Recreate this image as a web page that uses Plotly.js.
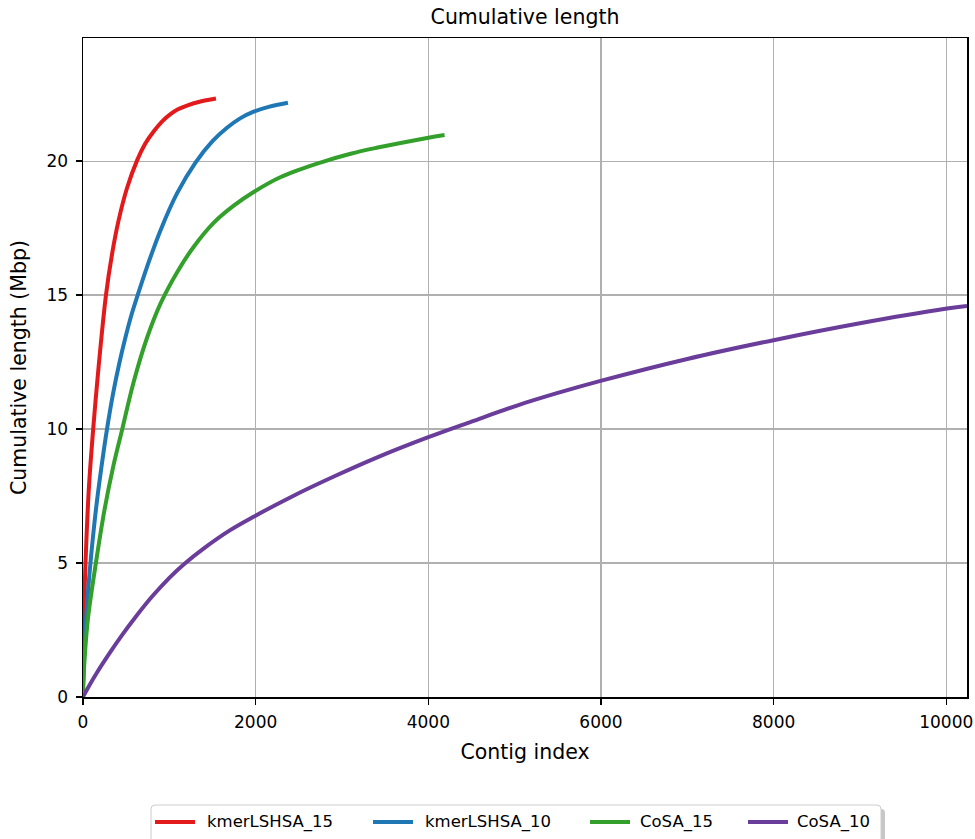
<!DOCTYPE html>
<html>
<head>
<meta charset="utf-8">
<script src="https://cdn.plot.ly/plotly-3.0.1.min.js"></script>
<style>html,body{margin:0;padding:0;background:#fff;}#chart{width:975px;height:839px;}</style>
</head>
<body>
<div id="chart"></div>
<script>
// Series names and colours
const seriesNames = ["kmerLSHSA_15", "kmerLSHSA_10", "CoSA_15", "CoSA_10"];
const seriesColors = ["#e31a1c", "#1f78b4", "#33a02c", "#6a3d9a"];

// kmerLSHSA_15 (contig index, cumulative length in Mbp)
const k15_x = [0, 15, 35, 70, 123, 180, 266, 340, 413, 510, 629, 720, 820, 920, 1013, 1100, 1204, 1350, 1540];
const k15_y = [0.3, 3.5, 5.5, 7.9, 10.2, 12.3, 15.0, 16.6, 17.8, 19.0, 20.05, 20.65, 21.12, 21.5, 21.76, 21.94, 22.08, 22.22, 22.34];

// kmerLSHSA_10
const k10_x = [0, 20, 50, 92, 150, 210, 278, 350, 420, 490, 560, 633, 741, 895, 1089, 1303, 1500, 1668, 1820, 1977, 2150, 2374];
const k10_y = [0.3, 2.0, 3.6, 5.2, 7.0, 8.5, 10.0, 11.35, 12.45, 13.4, 14.25, 15.0, 16.05, 17.4, 18.8, 19.95, 20.75, 21.25, 21.6, 21.85, 22.03, 22.18];

// CoSA_15
const c15_x = [0, 20, 60, 154, 250, 350, 451, 586, 741, 900, 1089, 1281, 1513, 1750, 1977, 2285, 2750, 3100, 3400, 3985, 4188];
const c15_y = [0.2, 1.5, 3.0, 5.1, 7.0, 8.6, 9.95, 11.75, 13.4, 14.7, 15.85, 16.8, 17.7, 18.35, 18.85, 19.4, 19.95, 20.28, 20.5, 20.87, 20.98];

// CoSA_10
const c10_x = [0, 50, 150, 300, 450, 600, 800, 1000, 1166, 1400, 1700, 1988, 2400, 2900, 3450, 3985, 4500, 5027, 5500, 5995, 7000, 7999, 9000, 10008, 10240];
const c10_y = [0, 0.3, 0.85, 1.6, 2.3, 2.95, 3.75, 4.45, 4.95, 5.55, 6.22, 6.75, 7.45, 8.22, 9.0, 9.68, 10.28, 10.88, 11.35, 11.8, 12.62, 13.32, 13.95, 14.5, 14.6];

const xTicks = [0, 2000, 4000, 6000, 8000, 10000];
const yTicks = [0, 5, 10, 15, 20];

const xs = [k15_x, k10_x, c15_x, c10_x];
const ys = [k15_y, k10_y, c15_y, c10_y];

const FONT = "DejaVu Sans, Liberation Sans, sans-serif";

// plot-area pixel geometry
const W = 975, H = 839, PL = 83, PR = 967, PT = 38, PB = 697;
const fx = px => (px - PL) / (PR - PL);
const fy = py => (PB - py) / (PB - PT);

const data = seriesNames.map((n, i) => ({
  type: "scatter",
  mode: "lines",
  name: n,
  x: xs[i],
  y: ys[i],
  line: {color: seriesColors[i], width: 4, shape: "spline", smoothing: 1},
  hoverinfo: "skip",
  showlegend: false
}));

// custom legend (matplotlib style, with shadow)
const legLeft = 151, legRight = 881, legTop = 805, legBottom = 848, legMidY = 822;
const lineStarts = [155, 373, 590, 748];
const textStarts = [207, 425, 640, 797];

function roundRect(x0, y0, x1, y1, r) {
  const X0 = fx(x0), X1 = fx(x1), Y0 = fy(y0), Y1 = fy(y1);
  const rx = r / (PR - PL), ry = r / (PB - PT);
  return `M ${X0 + rx},${Y0} L ${X1 - rx},${Y0} Q ${X1},${Y0} ${X1},${Y0 - ry} ` +
         `L ${X1},${Y1 + ry} Q ${X1},${Y1} ${X1 - rx},${Y1} L ${X0 + rx},${Y1} ` +
         `Q ${X0},${Y1} ${X0},${Y1 + ry} L ${X0},${Y0 - ry} Q ${X0},${Y0} ${X0 + rx},${Y0} Z`;
}

const shapes = [
  {type: "path", xref: "paper", yref: "paper", layer: "above",
   path: roundRect(legLeft + 4, legTop + 4, legRight + 4, legBottom + 4, 4),
   fillcolor: "rgba(130,130,130,0.45)", line: {width: 0}},
  {type: "path", xref: "paper", yref: "paper", layer: "above",
   path: roundRect(legLeft, legTop, legRight, legBottom, 4),
   fillcolor: "#ffffff", line: {color: "#cccccc", width: 1}}
];
const annotations = [];
seriesNames.forEach((n, i) => {
  shapes.push({type: "line", xref: "paper", yref: "paper", layer: "above",
    x0: fx(lineStarts[i]), x1: fx(lineStarts[i] + 40), y0: fy(legMidY), y1: fy(legMidY),
    line: {color: seriesColors[i], width: 4}});
  annotations.push({text: n, xref: "paper", yref: "paper", x: fx(textStarts[i] - 2), y: fy(legMidY),
    xanchor: "left", yanchor: "middle", showarrow: false,
    font: {family: FONT, size: 16.5, color: "#000"}});
});

const axisCommon = {
  showgrid: true,
  gridcolor: "#b0b0b0",
  gridwidth: 1.4,
  showline: true,
  linecolor: "#000",
  linewidth: 1.5,
  mirror: true,
  ticks: "outside",
  ticklen: 6,
  tickwidth: 1.5,
  tickcolor: "#000",
  zeroline: false,
  automargin: false,
  tickfont: {family: FONT, size: 17, color: "#000"}
};

const layout = {
  width: W,
  height: H,
  margin: {l: PL, r: W - PR, t: PT, b: H - PB},
  paper_bgcolor: "#fff",
  plot_bgcolor: "#fff",
  font: {family: FONT, color: "#000"},
  showlegend: false,
  title: {text: "Cumulative length", font: {family: FONT, size: 20.5, color: "#000"},
          x: fx(525), xref: "paper", xanchor: "center", y: 1 - 17 / H, yanchor: "middle", yref: "container"},
  xaxis: Object.assign({}, axisCommon, {
    range: [0, 10240],
    tickvals: xTicks,
    ticktext: xTicks.map(String),
    ticklabelstandoff: 3,
    title: {text: "Contig index", font: {family: FONT, size: 20.5, color: "#000"}, standoff: 13}
  }),
  yaxis: Object.assign({}, axisCommon, {
    range: [0, 24.6],
    tickvals: yTicks,
    ticktext: yTicks.map(String),
    ticklabelstandoff: 4,
    title: {text: "Cumulative length (Mbp)", font: {family: FONT, size: 20.5, color: "#000"}, standoff: 14}
  }),
  shapes: shapes,
  annotations: annotations
};

Plotly.newPlot("chart", data, layout, {displayModeBar: false, staticPlot: true});
</script>
</body>
</html>
